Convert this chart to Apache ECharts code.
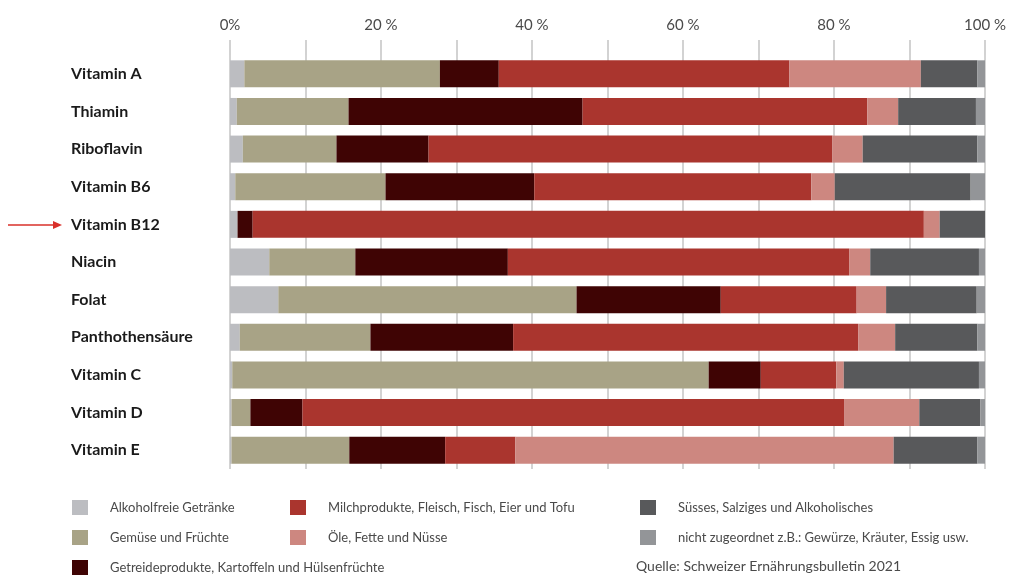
<!DOCTYPE html>
<html>
<head>
<meta charset="utf-8">
<script src="https://cdn.jsdelivr.net/npm/echarts@6/dist/echarts.min.js"></script>
<style>
  html, body { margin: 0; padding: 0; background: #fff; }
  #chart { width: 1009px; height: 575px; }
</style>
</head>
<body>
<div id="chart"></div>
<script>
// Anteil der Lebensmittelgruppen an der Vitaminzufuhr (%)
const categories = ['Vitamin A', 'Thiamin', 'Riboflavin', 'Vitamin B6', 'Vitamin B12', 'Niacin',
  'Folat', 'Panthothensäure', 'Vitamin C', 'Vitamin D', 'Vitamin E'];

const alkoholfrei = [1.9, 0.9, 1.7, 0.7, 1.0, 5.2, 6.4, 1.3, 0.3, 0.2, 0.2];
const gemuese     = [25.9, 14.8, 12.4, 19.9, 0, 11.4, 39.5, 17.3, 63.1, 2.5, 15.6];
const getreide    = [7.8, 31.0, 12.2, 19.7, 2.0, 20.2, 19.1, 18.9, 6.9, 6.9, 12.7];
const milch       = [38.5, 37.7, 53.5, 36.7, 88.9, 45.2, 18.0, 45.7, 10.0, 71.8, 9.3];
const oele        = [17.4, 4.1, 4.0, 3.1, 2.1, 2.8, 3.9, 4.9, 1.0, 9.9, 50.1];
const suesses     = [7.5, 10.3, 15.2, 18.0, 6.0, 14.4, 12.0, 10.9, 17.9, 8.1, 11.1];
const nichtZug    = [1.0, 1.2, 1.0, 1.9, 0, 0.8, 1.1, 1.0, 0.8, 0.6, 1.0];

const seriesDefs = [
  { name: 'Alkoholfreie Getränke', data: alkoholfrei, color: '#bcbdc1' },
  { name: 'Gemüse und Früchte', data: gemuese, color: '#a8a386' },
  { name: 'Getreideprodukte, Kartoffeln und Hülsenfrüchte', data: getreide, color: '#3f0404' },
  { name: 'Milchprodukte, Fleisch, Fisch, Eier und Tofu', data: milch, color: '#aa352e' },
  { name: 'Öle, Fette und Nüsse', data: oele, color: '#cd8780' },
  { name: 'Süsses, Salziges und Alkoholisches', data: suesses, color: '#58595b' },
  { name: 'nicht zugeordnet z.B.: Gewürze, Kräuter, Essig usw.', data: nichtZug, color: '#939598' }
];

const chart = echarts.init(document.getElementById('chart'));

const legendBase = {
  orient: 'vertical',
  top: 500,
  height: 75,
  padding: 0,
  itemWidth: 16,
  itemHeight: 15,
  itemGap: 15,
  icon: 'rect',
  selectedMode: false,
  textStyle: { color: '#4a4a4a', fontSize: 13, fontFamily: 'Lato', padding: [0, 0, 0, 17] }
};

chart.setOption({
  animation: false,
  backgroundColor: '#fff',
  color: seriesDefs.map(s => s.color),
  title: {
    text: 'Quelle: Schweizer Ernährungsbulletin 2021',
    left: 636,
    top: 559,
    padding: 0,
    textStyle: { color: '#4a4a4a', fontSize: 14, fontWeight: 'normal', fontFamily: 'Lato' }
  },
  legend: [
    Object.assign({}, legendBase, { left: 72, data: [seriesDefs[0].name, seriesDefs[1].name, seriesDefs[2].name] }),
    Object.assign({}, legendBase, { left: 290, data: [seriesDefs[3].name, seriesDefs[4].name] }),
    Object.assign({}, legendBase, { left: 640, data: [seriesDefs[5].name, seriesDefs[6].name] })
  ],
  grid: { left: 230, right: 24, top: 55, bottom: 106 },
  xAxis: {
    type: 'value',
    position: 'top',
    min: 0,
    max: 100,
    interval: 10,
    axisLine: { show: false },
    axisTick: { show: true, inside: false, length: 15, lineStyle: { color: '#c4c4c4', width: 1.5 } },
    splitLine: { show: true, lineStyle: { color: '#c4c4c4', width: 1.5 } },
    axisLabel: {
      margin: 22,
      color: '#4a4a4a',
      fontSize: 15,
      fontFamily: 'Lato',
      formatter: v => (v % 20 !== 0 ? '' : (v === 0 ? '0%' : v + ' %'))
    }
  },
  yAxis: {
    type: 'category',
    inverse: true,
    data: categories,
    axisLine: { show: false },
    axisTick: { show: false },
    axisLabel: {
      align: 'left',
      margin: 159,
      color: '#1a1a1a',
      fontSize: 16,
      fontWeight: 'bold',
      fontFamily: 'Lato'
    }
  },
  graphic: [
    { type: 'line', shape: { x1: 8, y1: 225, x2: 56, y2: 225 }, style: { stroke: '#d9302a', lineWidth: 1.3 } },
    { type: 'polygon', shape: { points: [[62, 225], [53, 221], [53, 229]] }, style: { fill: '#d9302a' } }
  ],
  series: seriesDefs.map(s => ({
    name: s.name,
    type: 'bar',
    stack: 'total',
    barWidth: 27,
    data: s.data,
    itemStyle: { color: s.color }
  }))
});
</script>
</body>
</html>
